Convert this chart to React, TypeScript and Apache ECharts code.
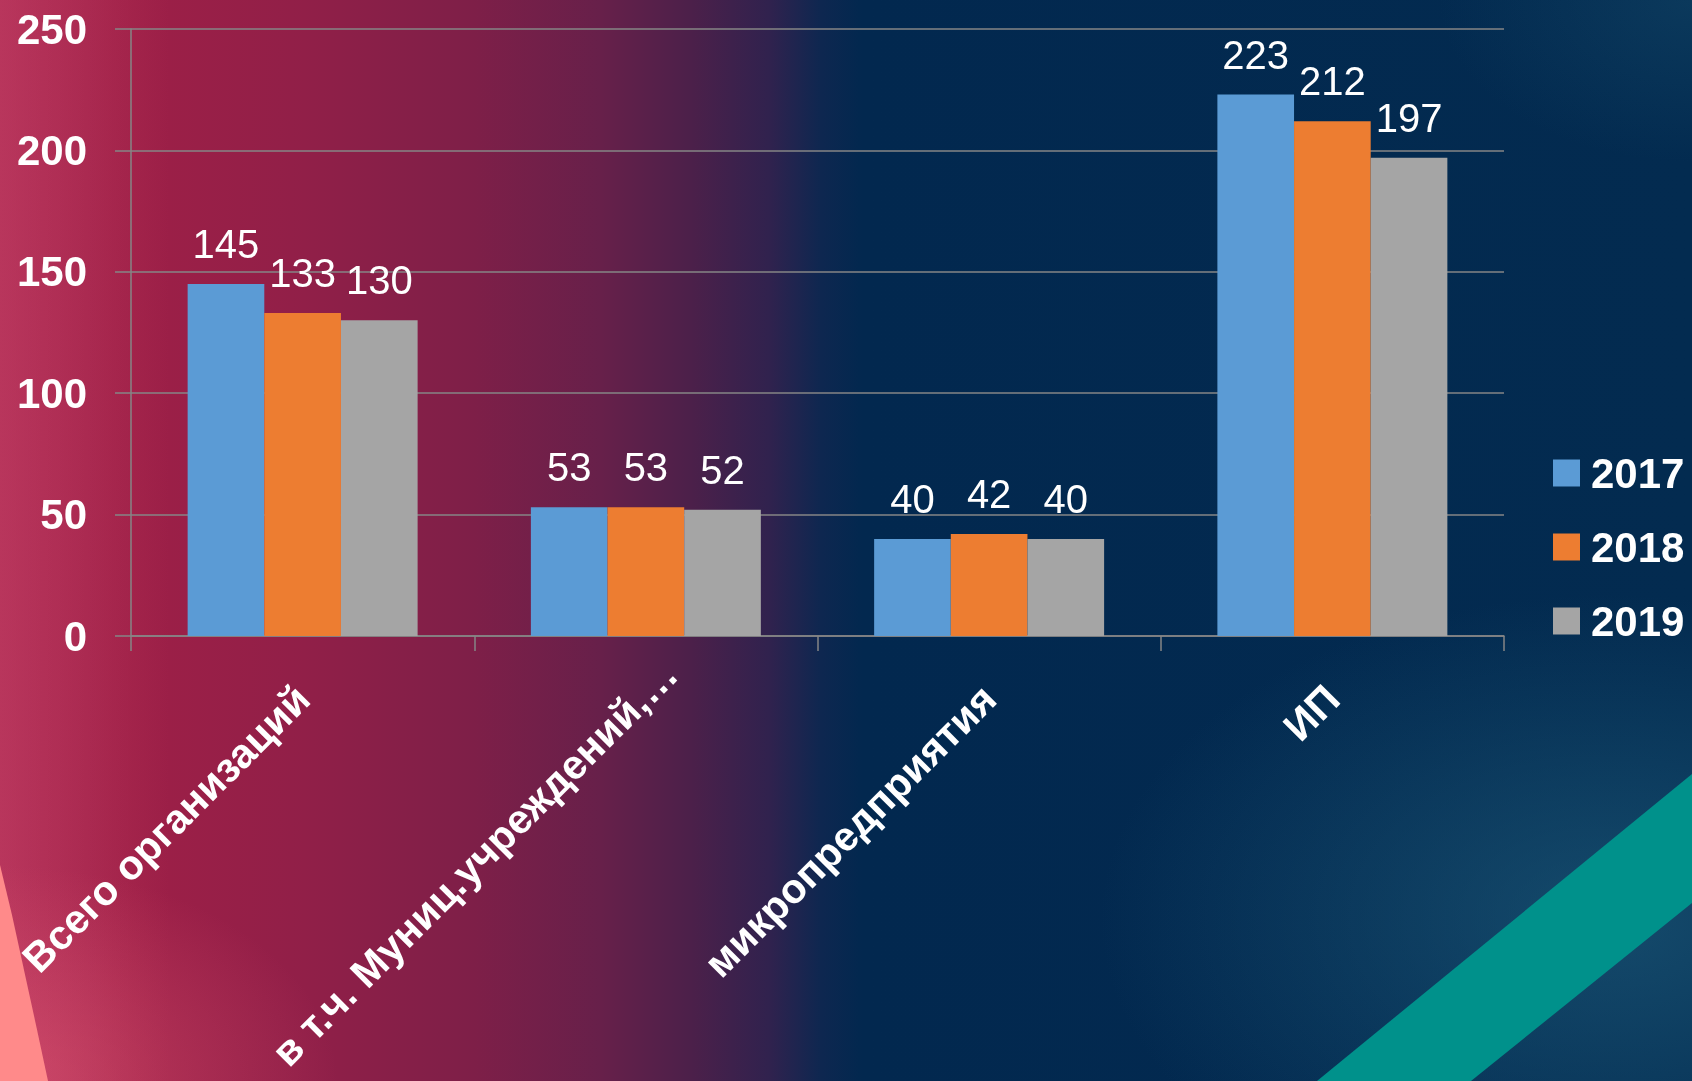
import React, { useEffect, useRef } from "react";
import * as echarts from "echarts";

const categories = ["Всего организаций", "в т.ч. Муниц.учреждений,…", "микропредприятия", "ИП"];
const seriesNames = ["2017", "2018", "2019"];
const values2017 = [145, 53, 40, 223];
const values2018 = [133, 53, 42, 212];
const values2019 = [130, 52, 40, 197];
const colors = ["#5b9bd5", "#ed7d31", "#a5a5a5"];

const FONT = "Liberation Sans";
const W = 1692;
const H = 1081;

export default function App() {
  const ref = useRef<HTMLDivElement>(null);
  useEffect(() => {
    if (!ref.current) return;
    const chart = echarts.init(ref.current, null, { renderer: "svg" });
    const seriesData = [values2017, values2018, values2019];
    const option: any = {
      animation: false,
      backgroundColor: "transparent",
      textStyle: { fontFamily: FONT },
      graphic: [
        {
          type: "rect",
          z: -100,
          silent: true,
          shape: { x: 0, y: 0, width: W, height: H },
          style: {
            fill: new echarts.graphic.LinearGradient(0, 0, 1, 0, [
              { offset: 0, color: "#a82550" },
              { offset: 0.077, color: "#9e1f47" },
              { offset: 0.18, color: "#911f48" },
              { offset: 0.28, color: "#7e1f48" },
              { offset: 0.355, color: "#67204a" },
              { offset: 0.41, color: "#4b204a" },
              { offset: 0.455, color: "#30224e" },
              { offset: 0.485, color: "#0e2750" },
              { offset: 0.51, color: "#02284f" },
              { offset: 1, color: "#032b50" },
            ]),
          },
        },
        {
          type: "rect",
          z: -99,
          silent: true,
          shape: { x: 0, y: 0, width: W, height: H },
          style: {
            fill: new echarts.graphic.LinearGradient(0, 0, 1, 0, [
              { offset: 0, color: "rgba(215,85,115,0.35)" },
              { offset: 0.1, color: "rgba(215,85,115,0)" },
            ]),
          },
        },
        {
          type: "rect",
          z: -99,
          silent: true,
          shape: { x: 0, y: 0, width: W, height: H },
          style: {
            fill: new echarts.graphic.RadialGradient(0, 1, 0.2, [
              { offset: 0, color: "rgba(235,100,125,0.45)" },
              { offset: 1, color: "rgba(235,100,125,0)" },
            ]),
          },
        },
        {
          type: "rect",
          z: -99,
          silent: true,
          shape: { x: 0, y: 0, width: W, height: H },
          style: {
            fill: new echarts.graphic.RadialGradient(0.95, 0.85, 0.3, [
              { offset: 0, color: "rgba(35,100,130,0.55)" },
              { offset: 1, color: "rgba(35,100,130,0)" },
            ]),
          },
        },
        {
          type: "rect",
          z: -99,
          silent: true,
          shape: { x: 0, y: 0, width: W, height: H },
          style: {
            fill: new echarts.graphic.RadialGradient(1, 0, 0.15, [
              { offset: 0, color: "rgba(30,90,120,0.3)" },
              { offset: 1, color: "rgba(30,90,120,0)" },
            ]),
          },
        },
        {
          type: "polygon",
          z: -98,
          silent: true,
          shape: {
            points: [
              [0, 865],
              [12, 915],
              [24, 970],
              [36, 1025],
              [48, 1081],
              [0, 1081],
            ],
          },
          style: { fill: "#ff8a8a" },
        },
        {
          type: "polygon",
          z: -98,
          silent: true,
          shape: {
            points: [
              [1317, 1081],
              [1692, 774],
              [1692, 903],
              [1471, 1081],
            ],
          },
          style: { fill: "#00918b" },
        },
      ],
      grid: { left: 131, right: 188, top: 29, bottom: 445, containLabel: false },
      legend: {
        data: seriesNames,
        orient: "vertical",
        left: 1553,
        top: 452,
        padding: 0,
        itemWidth: 27,
        itemHeight: 27,
        itemGap: 32,
        icon: "rect",
        textStyle: {
          color: "#ffffff",
          fontSize: 42,
          fontWeight: "bold",
          fontFamily: FONT,
          lineHeight: 42,
          padding: [0, 0, 0, 6],
        },
      },
      xAxis: {
        type: "category",
        data: categories.map((c, i) =>
          i === 1 ? { value: c, textStyle: { padding: [0, -35, 0, 0] } } : c
        ),
        axisLine: { show: true, lineStyle: { color: "#868686", width: 1.5 } },
        axisTick: { show: true, length: 15, lineStyle: { color: "#868686", width: 1.5 } },
        axisLabel: {
          interval: 0,
          rotate: 45,
          margin: 56,
          color: "#ffffff",
          fontSize: 41,
          fontWeight: "bold",
          fontFamily: FONT,
        },
      },
      yAxis: {
        type: "value",
        min: 0,
        max: 250,
        interval: 50,
        axisLine: { show: true, lineStyle: { color: "#868686", width: 1.5 } },
        axisTick: { show: true, length: 16, lineStyle: { color: "#868686", width: 1.5 } },
        splitLine: { show: true, lineStyle: { color: "#868686", width: 1.5 } },
        axisLabel: {
          margin: 44,
          color: "#ffffff",
          fontSize: 42,
          fontWeight: "bold",
          fontFamily: FONT,
        },
      },
      series: seriesNames.map((name, i) => ({
        name,
        type: "bar",
        data: seriesData[i],
        barGap: "0%",
        barCategoryGap: "33%",
        itemStyle: { color: colors[i] },
        label: {
          show: true,
          position: "top",
          distance: 20,
          color: "#ffffff",
          fontSize: 40,
          fontFamily: FONT,
        },
      })),
    };
    chart.setOption(option);
    return () => chart.dispose();
  }, []);
  return (
    <div
      ref={ref}
      style={{ position: "fixed", left: 0, top: 0, width: W, height: H }}
    />
  );
}
